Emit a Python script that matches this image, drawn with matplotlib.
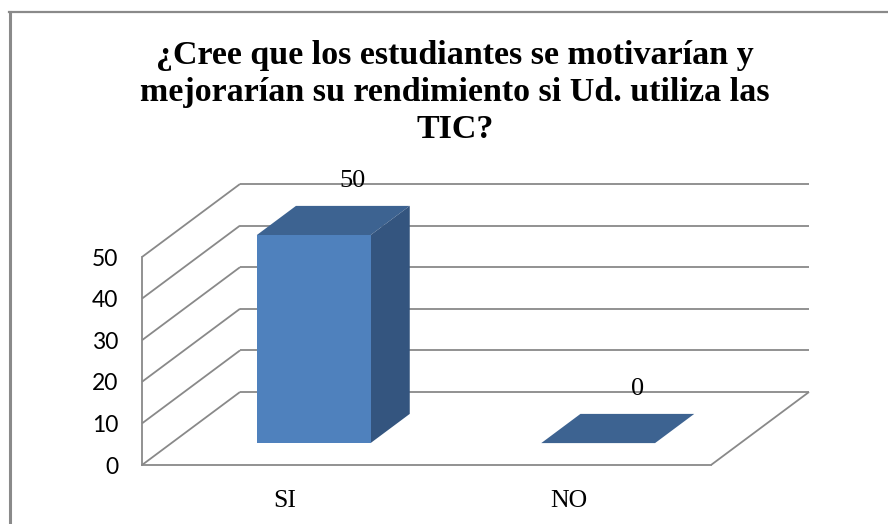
import matplotlib
matplotlib.use("Agg")
import matplotlib.pyplot as plt
from matplotlib.lines import Line2D
from matplotlib.patches import Polygon

categories = ["SI", "NO"]
values = [50, 0]
y_ticks = [0, 10, 20, 30, 40, 50]
title = "¿Cree que los estudiantes se motivarían y\nmejorarían su rendimiento si Ud. utiliza las\nTIC?"

FRONT = "#4F81BD"
TOP = "#3D6391"
SIDE = "#34557F"
GRID = "#898989"

W, H = 888, 524
fig = plt.figure(figsize=(W / 100, H / 100), dpi=100)

# front plane of the 3d box, in pixels
left, right, y0_px, y50_px = 142, 711, 465, 257
ax = fig.add_axes([left / W, (H - y0_px) / H, (right - left) / W, (y0_px - y50_px) / H])
ax.set_xlim(0, len(categories))
ax.set_ylim(0, max(y_ticks))

# depth of the box (98 px right, 73 px up) in data units
DX = len(categories) * 98 / (right - left)
DY = max(y_ticks) * 73 / (y0_px - y50_px)


def proj(x, y, z):
    return x + z * DX, y + z * DY


line_kw = dict(color=GRID, lw=1.3, clip_on=False, zorder=1, solid_capstyle="butt")

# back wall gridlines and left wall diagonals
for v in y_ticks:
    bx0, by0 = proj(0, v, 1)
    bx1, by1 = proj(len(categories), v, 1)
    ax.plot([bx0, bx1], [by0, by1], **line_kw)
    fx, fy = proj(0, v, 0)
    ax.plot([fx, bx0], [fy, by0], **line_kw)

# right edge of the floor
fx, fy = proj(len(categories), 0, 0)
bx, by = proj(len(categories), 0, 1)
ax.plot([fx, bx], [fy, by], **line_kw)

# bars
half_w = 0.2
z0, z1 = 0.3, 0.7
for i, v in enumerate(values):
    xa, xb = i + 0.5 - half_w, i + 0.5 + half_w
    top = [proj(xa, v, z0), proj(xb, v, z0), proj(xb, v, z1), proj(xa, v, z1)]
    ax.add_patch(Polygon(top, closed=True, facecolor=TOP, lw=0, clip_on=False, zorder=3))
    if v > 0:
        side = [proj(xb, 0, z0), proj(xb, v, z0), proj(xb, v, z1), proj(xb, 0, z1)]
        front = [proj(xa, 0, z0), proj(xb, 0, z0), proj(xb, v, z0), proj(xa, v, z0)]
        ax.add_patch(Polygon(side, closed=True, facecolor=SIDE, lw=0, clip_on=False, zorder=3))
        ax.add_patch(Polygon(front, closed=True, facecolor=FRONT, lw=0, clip_on=False, zorder=3))
    lx, ly = proj(i + 0.5, v, z1)
    ax.annotate(str(v), xy=(lx, ly), xytext=(0, 10), textcoords="offset points",
                ha="center", va="bottom", fontsize=19, family="Liberation Serif",
                annotation_clip=False, zorder=4)

# axes styling
ax.set_facecolor("none")
for s in ["top", "right"]:
    ax.spines[s].set_visible(False)
for s in ["left", "bottom"]:
    ax.spines[s].set_color(GRID)
    ax.spines[s].set_linewidth(1.3)
ax.set_yticks(y_ticks)
ax.set_yticklabels([str(t) for t in y_ticks], family="Lato", fontsize=16.5)
ax.set_xticks([i + 0.5 for i in range(len(categories))])
ax.set_xticklabels(categories, family="Liberation Serif", fontsize=18.5)
ax.tick_params(axis="y", length=0, pad=17)
ax.tick_params(axis="x", length=0, pad=18)

# chart frame (runs off the right and bottom edge)
fig.add_artist(Line2D([9.5 / W, 9.5 / W], [0, 1 - 12 / H], color="#8a8a8a", lw=2.2))
fig.add_artist(Line2D([9 / W, 1], [1 - 12 / H, 1 - 12 / H], color="#8a8a8a", lw=1.6))

fig.text(455 / W, 1 - 40 / H, title, ha="center", va="top", fontsize=24.5,
         fontweight="bold", family="Liberation Serif", linespacing=1.25)

fig.savefig("out.png", dpi=100)
